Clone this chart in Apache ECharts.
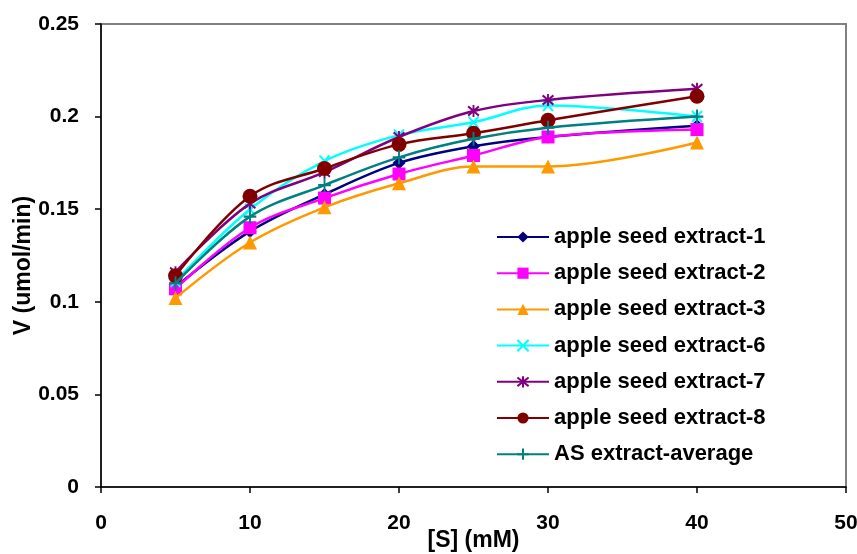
<!DOCTYPE html>
<html>
<head>
<meta charset="utf-8">
<script src="https://cdn.jsdelivr.net/npm/echarts@6/dist/echarts.min.js"></script>
<style>
  html, body { margin: 0; padding: 0; background: #fff; }
  #chart { width: 857px; height: 554px; }
</style>
</head>
<body>
<div id="chart"></div>
<script>
// Substrate concentrations [S] (mM)
const substrate = [5, 10, 15, 20, 25, 30, 40];

// Reaction velocity V (umol/min) per extract
const extract1 = [0.108, 0.138, 0.158, 0.175, 0.184, 0.189, 0.195];
const extract2 = [0.107, 0.140, 0.156, 0.169, 0.179, 0.189, 0.193];
const extract3 = [0.102, 0.132, 0.151, 0.164, 0.173, 0.173, 0.186];
const extract6 = [0.111, 0.150, 0.176, 0.190, 0.197, 0.206, 0.200];
const extract7 = [0.116, 0.153, 0.170, 0.189, 0.203, 0.209, 0.215];
const extract8 = [0.114, 0.157, 0.172, 0.185, 0.191, 0.198, 0.211];
const extractAvg = [0.110, 0.146, 0.163, 0.178, 0.188, 0.194, 0.200];

const seriesNames = [
  'apple seed extract-1',
  'apple seed extract-2',
  'apple seed extract-3',
  'apple seed extract-6',
  'apple seed extract-7',
  'apple seed extract-8',
  'AS extract-average'
];

const FONT = '"Liberation Sans", Arial, sans-serif';

const seriesDefs = [
  { values: extract1, color: '#000080', symbol: 'diamond', size: 13, stroke: false },
  { values: extract2, color: '#FF00FF', symbol: 'rect', size: 13, stroke: false },
  { values: extract3, color: '#FF9900', symbol: 'triangle', size: 14, stroke: false },
  { values: extract6, color: '#00FFFF', symbol: 'path://M0,0L10,10M10,0L0,10', size: 11, stroke: true },
  { values: extract7, color: '#800080', symbol: 'path://M0,0L10,10M10,0L0,10M5,-1.5L5,11.5', size: 12, stroke: true },
  { values: extract8, color: '#800000', symbol: 'circle', size: 15, stroke: false },
  { values: extractAvg, color: '#008080', symbol: 'path://M5,0L5,14M0,7L10,7', size: 14, stroke: true }
];

const series = seriesDefs.map((d, i) => ({
  name: seriesNames[i],
  type: 'line',
  data: substrate.map((x, j) => [x, d.values[j]]),
  smooth: 0.35,
  symbol: d.symbol,
  symbolSize: d.stroke ? [d.size * 0.9, d.size] : d.size,
  showAllSymbol: true,
  z: 2 + i,
  lineStyle: { color: d.color, width: 2.5 },
  itemStyle: d.stroke
    ? { color: d.color, borderColor: d.color, borderWidth: 2 }
    : { color: d.color, borderWidth: 0 },
  emphasis: { disabled: true }
}));

const chart = echarts.init(document.getElementById('chart'), null, { renderer: 'canvas' });
chart.setOption({
  animation: false,
  backgroundColor: '#ffffff',
  grid: {
    left: 101, right: 11, top: 24, bottom: 67,
    outerBoundsMode: 'none',
    containLabel: false,
    show: true, borderColor: '#808080', borderWidth: 2, backgroundColor: 'transparent'
  },
  legend: {
    orient: 'vertical',
    left: 491,
    top: 221,
    itemWidth: 52,
    itemHeight: 14,
    itemGap: 14.2,
    data: seriesNames,
    textStyle: { fontFamily: FONT, fontWeight: 'bold', fontSize: 22, color: '#000', lineHeight: 22 }
  },
  xAxis: {
    type: 'value',
    min: 0, max: 50, interval: 10,
    name: '[S] (mM)',
    nameLocation: 'middle',
    nameGap: 42,
    nameMoveOverlap: false,
    nameTextStyle: { fontFamily: FONT, fontWeight: 'bold', fontSize: 23, color: '#000' },
    axisLine: { show: true, onZero: false, lineStyle: { color: '#000', width: 1.5 } },
    axisTick: { show: true, length: 6, lineStyle: { color: '#000', width: 1.5 } },
    axisLabel: { fontFamily: FONT, fontWeight: 'bold', fontSize: 21, color: '#000', margin: 26 },
    splitLine: { show: false }
  },
  yAxis: {
    type: 'value',
    min: 0, max: 0.25, interval: 0.05,
    name: 'V (umol/min)',
    nameLocation: 'middle',
    nameGap: 66,
    nameMoveOverlap: false,
    nameTextStyle: { fontFamily: FONT, fontWeight: 'bold', fontSize: 23, color: '#000', padding: [0, 20, 0, 0] },
    axisLine: { show: true, onZero: false, lineStyle: { color: '#000', width: 1.5 } },
    axisTick: { show: true, length: 6, lineStyle: { color: '#000', width: 1.5 } },
    axisLabel: { fontFamily: FONT, fontWeight: 'bold', fontSize: 21, color: '#000', margin: 22,
      formatter: v => String(+v.toFixed(2)) },
    splitLine: { show: false }
  },
  series: series
});
</script>
</body>
</html>
